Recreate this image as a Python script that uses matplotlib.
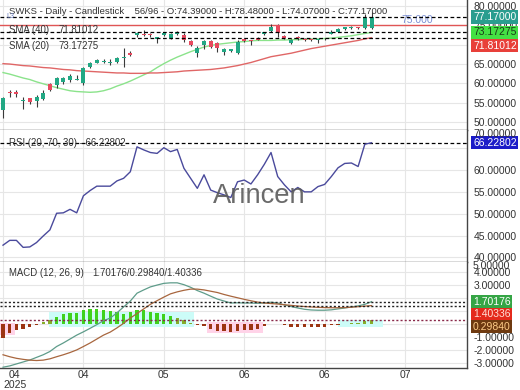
import numpy as np
import matplotlib
matplotlib.use('Agg')
import matplotlib.pyplot as plt
import matplotlib.transforms as mtransforms

plt.rcParams['font.family'] = ['Liberation Sans', 'DejaVu Sans']

# ---- datos (velas diarias SWKS) ----
opens = [53.1, 57.9, 57.8, 55.4, 56.1, 55.5, 55.9, 59.8, 59.6, 60.4,
         60.9, 61.0, 60.0, 64.3, 65.4, 65.5, 65.2, 65.6, 66.5, 67.8,
         72.5, 72.8, 72.7, 71.6, 72.5, 71.7, 72.7, 72.5, 71.0, 67.8,
         69.9, 71.0, 70.4, 68.2, 68.5, 67.9, 71.4, 71.1, 71.8, 72.8,
         73.6, 75.0, 72.2, 70.5, 72.1, 71.5, 71.4, 71.3, 71.6, 72.8,
         73.4, 74.0, 74.3, 74.5, 74.3, 74.39]
closes = [56.2, 57.5, 57.3, 55.7, 55.3, 56.6, 57.6, 58.3, 61.5, 61.3,
          61.9, 61.2, 63.9, 65.2, 66.0, 65.9, 65.6, 66.5, 66.7, 67.3,
          72.9, 72.6, 72.4, 71.9, 72.9, 72.7, 73.2, 71.2, 69.9, 69.1,
          71.0, 69.5, 69.1, 68.8, 68.8, 70.8, 71.0, 70.9, 71.3, 73.2,
          74.6, 72.9, 71.8, 71.2, 71.7, 71.3, 71.3, 71.4, 71.4, 73.4,
          74.0, 74.5, 74.5, 74.3, 77.0, 77.17]
highs = [56.4, 58.3, 58.3, 56.5, 56.3, 57.0, 58.2, 60.2, 61.7, 61.7,
         62.4, 62.2, 64.3, 65.5, 66.4, 66.2, 66.4, 66.9, 69.1, 68.3,
         73.3, 73.8, 72.9, 72.0, 73.1, 72.9, 73.5, 73.0, 71.2, 69.6,
         71.2, 71.2, 70.6, 69.2, 69.0, 71.2, 71.6, 71.2, 72.0, 73.4,
         75.3, 75.3, 72.4, 71.4, 72.2, 71.7, 71.6, 71.6, 71.8, 73.9,
         74.2, 74.7, 74.8, 74.7, 77.9, 78.48]
lows = [51.1, 56.6, 56.6, 53.3, 54.7, 54.0, 55.6, 58.0, 58.8, 59.8,
        60.4, 60.8, 59.7, 63.9, 65.2, 65.2, 64.8, 65.2, 64.2, 67.0,
        72.0, 72.2, 72.0, 70.4, 72.3, 71.5, 72.5, 70.6, 69.7, 66.8,
        68.8, 69.2, 68.0, 67.3, 68.2, 67.6, 70.8, 69.9, 71.1, 72.5,
        73.4, 72.1, 71.6, 70.2, 71.3, 71.0, 71.0, 70.4, 71.2, 72.7,
        73.2, 73.9, 74.1, 74.1, 74.0, 74.07]

sma20 = [62.8, 62.4, 61.9, 61.4, 61.0, 60.4, 59.9, 59.4, 58.9, 58.5,
         58.1, 57.9, 57.8, 57.7, 57.8, 58.1, 58.6, 59.3, 59.9, 60.6,
         61.4, 62.2, 63.0, 64.1, 65.1, 66.0, 66.8, 67.5, 68.2, 68.8,
         69.4, 69.8, 70.1, 70.3, 70.5, 70.7, 70.8, 71.0, 71.1, 71.1,
         71.1, 71.2, 71.2, 71.3, 71.3, 71.4, 71.5, 71.5, 71.6, 71.7,
         71.9, 72.1, 72.3, 72.6, 72.9, 73.17275]
sma40 = [65.1, 65.0, 64.8, 64.6, 64.5, 64.3, 64.1, 64.0, 63.8, 63.6,
         63.5, 63.3, 63.2, 63.1, 63.0, 62.9, 62.8, 62.7, 62.7, 62.6,
         62.6, 62.6, 62.7, 62.7, 62.8, 62.9, 63.0, 63.2, 63.3, 63.4,
         63.5, 63.6, 63.8, 64.0, 64.3, 64.6, 65.0, 65.4, 65.9, 66.4,
         66.9, 67.2, 67.5, 67.8, 68.2, 68.6, 69.0, 69.3, 69.6, 69.9,
         70.2, 70.5, 70.8, 71.1, 71.5, 71.81012]

rsi = [42.8, 43.9, 43.9, 42.3, 42.4, 43.4, 44.9, 46.3, 50.1, 50.2,
       51.0, 50.2, 54.1, 55.3, 56.3, 56.3, 56.3, 57.5, 58.1, 59.6,
       65.3, 64.6, 64.0, 63.8, 65.1, 64.2, 64.7, 60.4, 58.1, 55.8,
       58.9, 55.4, 54.8, 54.3, 53.7, 57.3, 57.7, 56.8, 58.9, 61.3,
       64.0, 58.5, 56.6, 55.0, 56.0, 55.0, 55.0, 56.2, 56.7, 58.5,
       60.5, 61.5, 61.6, 60.8, 65.9, 66.22802]

macd = [-3.3, -3.2, -3.05, -2.9, -2.75, -2.55, -2.35, -2.1, -1.72, -1.45,
        -1.15, -0.85, -0.6, -0.33, -0.05, 0.25, 0.45, 0.85, 1.3, 1.75,
        2.35, 2.6, 2.83, 2.97, 3.1, 3.14, 3.14, 3.0, 2.8, 2.55,
        2.35, 2.12, 1.9, 1.75, 1.6, 1.62, 1.6, 1.6, 1.58, 1.6,
        1.66, 1.6, 1.45, 1.33, 1.22, 1.12, 1.07, 1.05, 1.05, 1.08,
        1.15, 1.22, 1.3, 1.38, 1.5, 1.70176]
signal = [-2.35, -2.5, -2.62, -2.7, -2.76, -2.79, -2.76, -2.66, -2.5, -2.35,
          -2.18, -1.98, -1.72, -1.45, -1.15, -0.85, -0.62, -0.3, 0.05, 0.45,
          0.8, 1.15, 1.5, 1.78, 2.05, 2.3, 2.45, 2.57, 2.66, 2.66,
          2.6, 2.5, 2.4, 2.25, 2.12, 2.0, 1.88, 1.77, 1.67, 1.6,
          1.56, 1.52, 1.47, 1.42, 1.37, 1.33, 1.3, 1.27, 1.25, 1.24,
          1.24, 1.25, 1.28, 1.32, 1.36, 1.40336]
hist = [-1.05, -0.7, -0.48, -0.35, -0.23, -0.05, 0.15, 0.28, 0.53, 0.79,
        0.87, 0.87, 1.04, 1.12, 1.12, 1.04, 0.99, 0.94, 0.79, 0.94,
        1.07, 1.04, 0.94, 0.87, 0.79, 0.61, 0.48, 0.28, 0.1, -0.1,
        -0.12, -0.4, -0.5, -0.55, -0.6, -0.5, -0.45, -0.45, -0.35, -0.15,
        -0.03, 0.02, -0.05, -0.2, -0.25, -0.25, -0.25, -0.25, -0.25, -0.1,
        -0.05, 0.03, 0.05, 0.08, 0.2, 0.2984]

# zonas resaltadas detras del histograma
glow_x0 = [-0.5, 6.8, 30.4, 50.0]
glow_x1 = [1.8, 28.5, 38.8, 56.7]
glow_lo = [-0.84, -0.2, -0.71, -0.23]
glow_hi = [0.08, 0.94, 0.18, 0.30]

alert_level = 75.0
total_bars = 96
tick_pos = [0, 12, 24, 36, 48, 60]
tick_lab = ['04\n2025', '04', '05', '06', '06', '07']

# ---- figura ----
W, H = 520, 390
fig = plt.figure(figsize=(W / 100, H / 100), dpi=100)


def panel(top, bottom):
    return fig.add_axes([0, 1 - bottom / H, 467 / W, (bottom - top) / H])


def px(xp, yp):
    return xp / W, 1 - yp / H


ax1 = panel(0, 130)
ax2 = panel(130, 262)
ax3 = panel(262, 368)

x = np.arange(len(closes))
for ax in (ax1, ax2, ax3):
    ax.set_xlim(-0.45, 69.25)
    ax.set_facecolor('white')
    for s in ('top', 'left'):
        ax.spines[s].set_visible(False)
    for s in ('right', 'bottom'):
        ax.spines[s].set_color('#444444')
        ax.spines[s].set_linewidth(1.0)
    ax.yaxis.tick_right()
    ax.tick_params(axis='y', length=0, pad=5, labelsize=7.5, labelcolor='#333333')
    ax.tick_params(axis='x', length=0)
    ax.set_xticks(tick_pos)
    ax.grid(True, color='#e6e6e6', lw=0.8)
    ax.set_axisbelow(True)


def fmt_hidden(hidden):
    # etiquetas tapadas por las cajas de valor se dejan vacias
    return matplotlib.ticker.FuncFormatter(
        lambda v, p: '' if round(v, 3) in hidden else f'{v:.5f}')


ax1.set_xticklabels([])
ax2.set_xticklabels([])
ax3.set_xticklabels(tick_lab, fontsize=7.5, color='#333333', linespacing=0.95)
ax3.tick_params(axis='x', pad=1.5)
first = ax3.get_xticklabels()[0]
first.set_ha('left')
first.set_multialignment('center')

# ---- precio ----
ax1.set_ylim(47.96, 81.55)
ax1.set_yticks([50, 55, 60, 65, 70, 75, 80])
ax1.yaxis.set_major_formatter(fmt_hidden({70.0}))

o = np.array(opens); c = np.array(closes)
up = c >= o
body_col = np.where(up, '#22a884', '#e84a5f')
ax1.vlines(x, lows, highs, color='#3a3a3a', lw=0.8, zorder=3)
ax1.bar(x, np.maximum(np.abs(c - o), 0.12), bottom=np.minimum(o, c), width=0.6,
        color=body_col, zorder=4)

ax1.plot(x, sma20, color='#8be38b', lw=1.0, zorder=2)
ax1.plot(x, sma40, color='#e06666', lw=1.0, zorder=2)

ax1.axhline(alert_level, color='#e05555', lw=1.0, zorder=2)
ax1.text(59.5, alert_level + 1.3, f'{alert_level:.3f}', color='#7b8fd4',
         fontsize=7.5, va='center', ha='left')
for v in (closes[-1], sma20[-1], sma40[-1]):
    ax1.axhline(v, color='black', ls=(0, (3, 2)), lw=0.9, zorder=5)

fig.text(*px(9, 12), f'SWKS - Daily - Candlestick    {len(closes)}/{total_bars} - '
         f'O:{opens[-1]:.5f} - H:{highs[-1]:.5f} - L:{lows[-1]:.5f} - C:{closes[-1]:.5f}',
         fontsize=6.8, color='#333333', va='center')
fig.text(*px(9, 30), 'SMA (40)', fontsize=6.9, color='#333333', va='center')
fig.text(*px(58, 30), f'{sma40[-1]:.5f}', fontsize=6.9, color='#333333', va='center')
fig.text(*px(9, 46), 'SMA (20)', fontsize=6.9, color='#333333', va='center')
fig.text(*px(58, 46), f'{sma20[-1]:.5f}', fontsize=6.9, color='#333333', va='center')
fig.text(*px(6, 16), 'L3', fontsize=5, color='#6a7fc0', va='center')


def stack(ax, values, gap):
    ys = [ax.transData.transform((0, v))[1] for v in values]
    out = []
    for y in ys:
        if out and out[-1] - y < gap:
            y = out[-1] - gap
        out.append(y)
    inv = ax.transData.inverted()
    return [inv.transform((0, y))[1] for y in out]


def price_box(ax, yv, label, fc, tc):
    tr = mtransforms.blended_transform_factory(ax.transAxes, ax.transData)
    ax.text(1 + 6 / 467, yv, label, transform=tr, fontsize=7.5, color=tc,
            va='center', ha='left', clip_on=False, zorder=10,
            bbox=dict(boxstyle='square,pad=0.15', fc=fc, ec='none'))


vals = [closes[-1], sma20[-1], sma40[-1]]
cols = [('#2a9d8f', 'white'), ('#44e044', '#1a3a1a'), ('#e8403a', 'white')]
for yv, v, (fc, tc) in zip(stack(ax1, vals, 13.5), vals, cols):
    price_box(ax1, yv, f'{v:.5f}', fc, tc)

# ---- RSI ----
ax2.set_ylim(38.95, 69.15)
ax2.set_yticks([40, 45, 50, 55, 60, 65])
ax2.yaxis.set_major_formatter(fmt_hidden({65.0}))
ax2.plot(x, rsi, color='#4a4a9c', lw=1.0, zorder=3)
ax2.axhline(rsi[-1], color='black', ls=(0, (3, 2)), lw=0.9, zorder=2)
fig.text(*px(9, 143.5), f'RSI (20, 70, 30) - {rsi[-1]:.5f}', fontsize=6.9,
         color='#333333', va='center')
fig.text(*px(473, 134), '70.00000', fontsize=7.5, color='#333333', va='center')
price_box(ax2, rsi[-1], f'{rsi[-1]:.5f}', '#1c1cc8', 'white')
fig.text(213 / W, 1 - 203 / H, 'Arincen', fontsize=19.7, color='#5a5a5a',
         va='baseline', ha='left', alpha=0.9)

# ---- MACD ----
ax3.set_ylim(-3.36, 4.73)
ax3.set_yticks([-3, -2, -1, 0, 1, 2, 3, 4])
ax3.yaxis.set_major_formatter(fmt_hidden({0.0, 1.0, 2.0}))
for a0, a1, lo, hi in zip(glow_x0, glow_x1, glow_lo, glow_hi):
    col = '#ccfcf8' if hi + lo > 0 else '#ffd3e8'
    ax3.fill_between([a0, a1], lo, hi, color=col, lw=0, zorder=1)
hv = np.array(hist)
bar_col = np.where(hv >= 0, np.where(hv < 0.5, '#86ad2a', '#3fd21c'), '#9c3512')
ax3.bar(x, hv, width=0.5, color=bar_col, zorder=3)
ax3.plot(x, macd, color='#5e9c8a', lw=0.9, zorder=4)
ax3.plot(x, signal, color='#a8663e', lw=0.9, zorder=4)
ax3.axhline(macd[-1], color='#222222', ls=(0, (1.5, 1.5)), lw=1.0, zorder=5)
ax3.axhline(signal[-1], color='#222222', ls=(0, (1.5, 1.5)), lw=1.0, zorder=5)
ax3.axhline(hist[-1], color='#8a2a4a', ls=(0, (1.5, 1.5)), lw=1.0, zorder=5)
fig.text(*px(9, 273), 'MACD (12, 26, 9)', fontsize=6.9, color='#333333', va='center')
fig.text(*px(92, 273), f'{macd[-1]:.5f}/{hist[-1]:.5f}/{signal[-1]:.5f}',
         fontsize=6.9, color='#333333', va='center')
fig.text(*px(473, 266), '5.00000', fontsize=7.5, color='#333333', va='center')

vals = [macd[-1], signal[-1], hist[-1]]
cols = [('#35a545', 'white'), ('#e42a1c', '#ffe0d8'), ('#6e3a10', '#ffcc88')]
for yv, v, (fc, tc) in zip(stack(ax3, vals, 12.5), vals, cols):
    price_box(ax3, yv, f'{v:.5f}', fc, tc)

fig.savefig('out.png', dpi=100)
